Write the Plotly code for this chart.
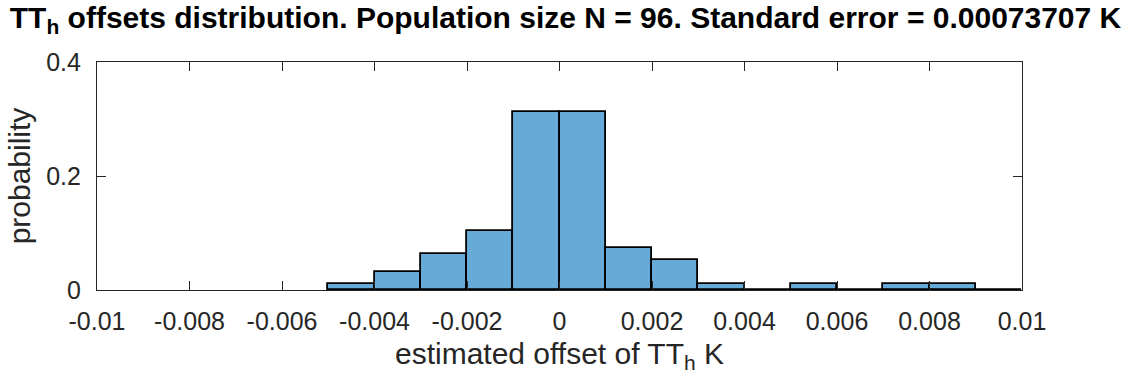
import plotly.graph_objects as go

# Data
bin_left_edges = [-0.005, -0.004, -0.003, -0.002, -0.001, 0.000, 0.001, 0.002,
                  0.003, 0.004, 0.005, 0.006, 0.007, 0.008, 0.009]
counts = [1, 3, 6, 10, 30, 30, 7, 5, 1, 0, 1, 0, 1, 1, 0]
N = 96
bin_width = 0.001
x_ticks = [-0.01, -0.008, -0.006, -0.004, -0.002, 0, 0.002, 0.004, 0.006, 0.008, 0.01]
x_tick_labels = ["-0.01", "-0.008", "-0.006", "-0.004", "-0.002", "0",
                 "0.002", "0.004", "0.006", "0.008", "0.01"]
y_ticks = [0, 0.2, 0.4]
y_tick_labels = ["0", "0.2", "0.4"]

centers = [e + bin_width / 2 for e in bin_left_edges]
probs = [c / N for c in counts]

axis_color = "#262626"
font_family = "Liberation Sans, Arial, sans-serif"

fig = go.Figure()
fig.add_trace(go.Bar(
    x=centers, y=probs, width=[bin_width] * len(centers),
    marker=dict(color="rgb(102,170,215)", line=dict(color="black", width=1.8)),
    showlegend=False,
))

fig.update_layout(
    width=1131, height=383,
    margin=dict(l=97, r=109, t=62, b=93),
    paper_bgcolor="white", plot_bgcolor="white",
    font=dict(family=font_family, size=25, color=axis_color),
    title=dict(
        text="<b>TT<sub>h</sub> offsets distribution. Population size N = 96. Standard error = 0.00073707 K</b>",
        x=0.5, xanchor="center", xref="container",
        y=1, yref="container", yanchor="top", pad=dict(t=7),
        font=dict(family=font_family, size=30, color="black"),
    ),
    bargap=0,
)

fig.update_xaxes(
    range=[-0.01, 0.01], tickvals=x_ticks, ticktext=x_tick_labels,
    showline=True, linecolor=axis_color, linewidth=1.2, mirror="ticks",
    ticks="inside", ticklen=9, tickcolor=axis_color, tickwidth=1.2,
    showgrid=False, zeroline=False, ticklabelstandoff=9,
    tickfont=dict(size=25, color=axis_color),
    title=dict(text="estimated offset of TT<sub>h</sub> K", font=dict(size=30, color=axis_color), standoff=8),
)
fig.update_yaxes(
    range=[0, 0.4], tickvals=y_ticks, ticktext=y_tick_labels,
    showline=True, linecolor=axis_color, linewidth=1.2, mirror="ticks",
    ticks="inside", ticklen=9, tickcolor=axis_color, tickwidth=1.2,
    showgrid=False, zeroline=False, ticklabelstandoff=10,
    tickfont=dict(size=25, color=axis_color),
    title=dict(text="probability", font=dict(size=30, color=axis_color), standoff=6),
)

fig.write_html("out.html")
